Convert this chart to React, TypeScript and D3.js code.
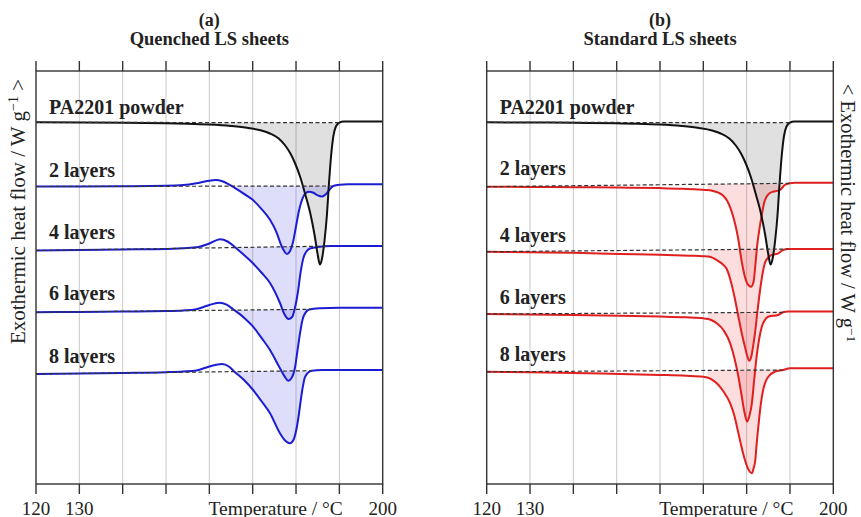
import React from "react";
import * as d3 from "d3";

const WIDTH = 861;
const HEIGHT = 517;

// Temperature axis
const TEMP_TICKS = [120, 130, 140, 150, 160, 170, 180, 190, 200];
const TEMP_LABELS = [120, 130, 200];
const AXIS_TITLE = "Temperature / °C";
const AXIS_TITLE_AT = 175.3;

// Heat flow (W g^-1) relative to each trace's high-temperature baseline; [°C, W g^-1]
type Pt = [number, number];

const powder: Pt[] = [
  [120, -0.008], [130, -0.01], [140, -0.013], [150, -0.018], [155, -0.022], [160, -0.03],
  [165, -0.045], [169, -0.065], [172, -0.09], [174, -0.12], [176, -0.17], [177.5, -0.24],
  [178.7, -0.32], [179.8, -0.42], [181, -0.56], [182.2, -0.74], [183.3, -0.92], [184.3, -1.14],
  [185, -1.33], [185.5, -1.43], [186, -1.37], [186.6, -1.18], [187.1, -0.95], [187.6, -0.62],
  [188.1, -0.34], [188.6, -0.15], [189.2, -0.05], [190, -0.012], [191, 0], [200, 0],
];

const quenched2: Pt[] = [
  [120, -0.022], [130, -0.021], [140, -0.019], [150, -0.015], [154, -0.008], [157, 0.01],
  [159.5, 0.032], [161.5, 0.043], [163, 0.03], [164.3, 0.005], [166, -0.04], [168, -0.095],
  [170, -0.155], [172, -0.245], [174, -0.355], [175.5, -0.48], [176.5, -0.6], [177.3, -0.67],
  [177.9, -0.697], [178.6, -0.67], [179.3, -0.58], [180, -0.42], [180.7, -0.26], [181.5, -0.14],
  [182.3, -0.085], [183, -0.075], [184, -0.085], [185, -0.11], [186, -0.122], [187, -0.095],
  [187.8, -0.05], [188.6, -0.017], [190, -0.004], [192, 0], [200, 0],
];

const quenched4: Pt[] = [
  [120, -0.045], [130, -0.04], [140, -0.035], [150, -0.03], [154, -0.022], [157.5, -0.01],
  [160, 0.025], [162.5, 0.067], [164.2, 0.045], [166, -0.015], [168, -0.09], [170, -0.17],
  [172, -0.265], [174, -0.37], [176.3, -0.57], [177.3, -0.68], [178.3, -0.73], [179.1, -0.71],
  [179.7, -0.63], [180.4, -0.47], [181.1, -0.25], [181.7, -0.12], [182.4, -0.055], [183.2, -0.025],
  [185.5, -0.007], [188, 0], [200, 0],
];

const quenched6: Pt[] = [
  [120, -0.046], [130, -0.042], [140, -0.038], [150, -0.034], [154, -0.028], [157, -0.015],
  [159.5, 0.02], [162.3, 0.05], [164, 0.03], [165.5, -0.016], [168, -0.1], [170.1, -0.19],
  [172, -0.3], [174, -0.423], [176.3, -0.606], [177.4, -0.69], [178.2, -0.73], [179, -0.7],
  [179.8, -0.59], [180.3, -0.44], [180.8, -0.29], [181.3, -0.16], [181.8, -0.08], [183.1, -0.018],
  [185.5, -0.006], [190, 0], [200, 0],
];

const quenched8: Pt[] = [
  [120, -0.04], [130, -0.036], [140, -0.03], [150, -0.022], [154, -0.015], [157, -0.005],
  [160, 0.035], [162.9, 0.06], [164.5, 0.035], [165.8, -0.017], [168, -0.1], [170.1, -0.2],
  [172, -0.31], [174, -0.433], [176.3, -0.633], [177.6, -0.71], [178.6, -0.733], [179.4, -0.7],
  [180.2, -0.567], [180.7, -0.43], [181.1, -0.3], [181.6, -0.16], [182.1, -0.067], [183.6, -0.007],
  [186, 0], [200, 0],
];

const standard2: Pt[] = [
  [120, -0.04], [130, -0.042], [140, -0.045], [150, -0.048], [160, -0.054], [165, -0.06],
  [168, -0.066], [170.5, -0.072], [172, -0.08], [173.5, -0.1], [174.6, -0.13], [175.5, -0.18],
  [176.3, -0.26], [176.9, -0.34], [177.6, -0.46], [178.1, -0.573], [178.8, -0.773], [179.6, -0.94],
  [180.4, -1.025], [181, -1.04], [181.6, -0.99], [182, -0.83], [182.4, -0.64], [183, -0.45],
  [183.5, -0.32], [184.1, -0.19], [184.6, -0.14], [185.3, -0.105], [186.1, -0.09], [187, -0.082],
  [187.7, -0.073], [188.3, -0.045], [188.8, -0.023], [190, -0.006], [191, 0], [200, 0],
];

const standard4: Pt[] = [
  [120, -0.027], [130, -0.032], [140, -0.038], [150.8, -0.05], [160, -0.058], [166.9, -0.067],
  [170, -0.072], [171.5, -0.077], [173.1, -0.11], [174.4, -0.15], [175.4, -0.2], [176.2, -0.3],
  [177.2, -0.48], [178.1, -0.677], [179, -0.87], [179.6, -0.977], [180.2, -1.08], [180.6, -1.117],
  [181.1, -1.07], [181.5, -0.97], [181.9, -0.85], [182.5, -0.62], [183.1, -0.41], [183.7, -0.24],
  [184.2, -0.143], [185, -0.085], [185.8, -0.06], [187.3, -0.043], [188.4, -0.01], [189.6, 0],
  [200, 0],
];

const standard6: Pt[] = [
  [120, -0.025], [130, -0.03], [140, -0.035], [150.8, -0.042], [160, -0.05], [166, -0.058],
  [170, -0.068], [171.7, -0.082], [173.1, -0.118], [174.7, -0.19], [176.2, -0.318], [177.2, -0.47],
  [178.1, -0.652], [178.8, -0.83], [179.4, -0.985], [180.1, -1.102], [180.6, -1.05], [181.2, -0.918],
  [181.7, -0.7], [182.3, -0.452], [182.9, -0.27], [183.5, -0.152], [184.2, -0.085], [185, -0.052],
  [187.3, -0.035], [188.4, -0.008], [189.6, 0], [200, 0],
];

const standard8: Pt[] = [
  [120, -0.035], [130, -0.04], [140, -0.046], [150.8, -0.057], [160, -0.066], [166, -0.074],
  [170, -0.084], [171.7, -0.105], [173.1, -0.15], [174.7, -0.235], [176.2, -0.35], [177.2, -0.48],
  [178.1, -0.65], [179, -0.82], [179.6, -0.917], [180.5, -1.02], [181.2, -1.05], [181.6, -1.0],
  [182, -0.917], [182.3, -0.76], [182.7, -0.584], [183.2, -0.38], [183.8, -0.217], [184.4, -0.13],
  [185, -0.084], [186.5, -0.034], [188.4, -0.017], [190, 0], [200, 0],
];

const POWDER_LABEL = "PA2201 powder";
const LAYER_LABELS = ["2 layers", "4 layers", "6 layers", "8 layers"];

// vertical shift of each trace (W g^-1)
const POWDER_OFFSET = 0;
const QUENCHED_OFFSETS = [-0.628, -1.245, -1.862, -2.485];
const STANDARD_OFFSETS = [-0.612, -1.275, -1.9, -2.468];

// integration limits (°C): baseline drawn from start to end, peak shaded from fill start to end
const POWDER_LIMITS = [120, 190, 160];
const QUENCHED_LIMITS = [
  [120, 188.6, 164.8],
  [120, 187.5, 165.8],
  [120, 183.5, 165.3],
  [120, 183.6, 165.6],
];
const STANDARD_LIMITS = [
  [120, 190, 171],
  [120, 189.6, 171],
  [120, 188.4, 171],
  [120, 188.4, 171],
];

const INK = "#222";
const FONT = "'Liberation Serif', 'Times New Roman', serif";

const yScale = d3.scaleLinear().domain([-3.625, 0.505]).range([484, 71]);
const TOP = 71;
const BOTTOM = 484;

function valueAt(data: Pt[], t: number): number {
  const i = d3.bisector((d: Pt) => d[0]).left(data, t);
  if (i <= 0) return data[0][1];
  if (i >= data.length) return data[data.length - 1][1];
  const [t0, v0] = data[i - 1];
  const [t1, v1] = data[i];
  return v0 + ((v1 - v0) * (t - t0)) / (t1 - t0);
}

interface Trace {
  label: string;
  data: Pt[];
  offset: number;
  limits: number[];
}

interface PanelProps {
  x0: number;
  x1: number;
  letter: string;
  title: string;
  traces: Trace[];
  color: string;
  fill: string;
}

function Panel({ x0, x1, letter, title, traces, color, fill }: PanelProps) {
  const x = d3.scaleLinear().domain([120, 200]).range([x0, x1]);

  const lineFor = (off: number) =>
    d3
      .line<Pt>()
      .x((d) => x(d[0]))
      .y((d) => yScale(d[1] + off))
      .curve(d3.curveMonotoneX);

  const parts = traces.map((tr, idx) => {
    const [tA, tB, tF] = tr.limits;
    const vA = valueAt(tr.data, tA);
    const vB = valueAt(tr.data, tB);
    const base = (t: number) => vA + ((vB - vA) * (t - tA)) / (tB - tA);
    const inner = tr.data.filter((d) => d[0] > tF && d[0] < tB);
    const fillPts: Pt[] = [[tF, valueAt(tr.data, tF)], ...inner, [tB, vB]];
    const area = d3
      .area<Pt>()
      .x((d) => x(d[0]))
      .y0((d) => yScale(base(d[0]) + tr.offset))
      .y1((d) => yScale(d[1] + tr.offset))
      .curve(d3.curveMonotoneX);
    return {
      key: idx,
      areaPath: area(fillPts) || "",
      linePath: lineFor(tr.offset)(tr.data) || "",
      dash: { x1: x(tA), y1: yScale(vA + tr.offset), x2: x(tB), y2: yScale(vB + tr.offset) },
      isPowder: idx === 0,
      label: tr.label,
      labelY: yScale(tr.offset) - 7.5,
    };
  });

  const cx = (x0 + x1) / 2;
  const drawOrder = [...parts.slice(1)].reverse();

  return (
    <g>
      <text x={cx} y={25.5} textAnchor="middle" fontFamily={FONT} fontWeight="bold" fontSize={18} fill={INK}>
        {letter}
      </text>
      <text x={cx} y={45} textAnchor="middle" fontFamily={FONT} fontWeight="bold" fontSize={18.5} fill={INK}>
        {title}
      </text>

      {TEMP_TICKS.slice(1, -1).map((t) => (
        <line key={`g${t}`} x1={x(t)} x2={x(t)} y1={TOP} y2={BOTTOM} stroke="#c9c9c9" strokeWidth={1} />
      ))}

      {parts.map((p) => (
        <path key={`a${p.key}`} d={p.areaPath} fill={p.isPowder ? "rgba(0,0,0,0.12)" : fill} stroke="none" />
      ))}

      {drawOrder.map((p) => (
        <path key={`l${p.key}`} d={p.linePath} fill="none" stroke={color} strokeWidth={2} />
      ))}
      <path d={parts[0].linePath} fill="none" stroke="#111" strokeWidth={2} />

      {parts.map((p) => (
        <line
          key={`d${p.key}`}
          {...p.dash}
          stroke="#333"
          strokeWidth={1.2}
          strokeDasharray="4 2.5"
        />
      ))}

      {parts.map((p) => (
        <text
          key={`t${p.key}`}
          x={x0 + 13}
          y={p.labelY}
          fontFamily={FONT}
          fontWeight="bold"
          fontSize={20}
          fill={INK}
        >
          {p.label}
        </text>
      ))}

      <rect x={x0} y={TOP} width={x1 - x0} height={BOTTOM - TOP} fill="none" stroke="#333" strokeWidth={1.4} />
      {TEMP_TICKS.map((t) => (
        <g key={`k${t}`}>
          <line x1={x(t)} x2={x(t)} y1={TOP} y2={TOP - 10} stroke="#333" strokeWidth={1.4} />
          <line x1={x(t)} x2={x(t)} y1={BOTTOM} y2={BOTTOM + 10} stroke="#333" strokeWidth={1.4} />
        </g>
      ))}
      {TEMP_LABELS.map((t) => (
        <text key={`n${t}`} x={x(t)} y={514.5} textAnchor="middle" fontFamily={FONT} fontSize={19} fill={INK}>
          {t}
        </text>
      ))}
      <text x={x(AXIS_TITLE_AT)} y={514.5} textAnchor="middle" fontFamily={FONT} fontSize={19.5} fill={INK}>
        {AXIS_TITLE}
      </text>
    </g>
  );
}

export default function App() {
  const quenched: Trace[] = [
    { label: POWDER_LABEL, data: powder, offset: POWDER_OFFSET, limits: POWDER_LIMITS },
    ...[quenched2, quenched4, quenched6, quenched8].map((data, i) => ({
      label: LAYER_LABELS[i],
      data,
      offset: QUENCHED_OFFSETS[i],
      limits: QUENCHED_LIMITS[i],
    })),
  ];
  const standard: Trace[] = [
    { label: POWDER_LABEL, data: powder, offset: POWDER_OFFSET, limits: POWDER_LIMITS },
    ...[standard2, standard4, standard6, standard8].map((data, i) => ({
      label: LAYER_LABELS[i],
      data,
      offset: STANDARD_OFFSETS[i],
      limits: STANDARD_LIMITS[i],
    })),
  ];

  return (
    <svg
      width={WIDTH}
      height={HEIGHT}
      viewBox={`0 0 ${WIDTH} ${HEIGHT}`}
      style={{ position: "absolute", left: 0, top: 0, background: "#fff" }}
    >
      <rect width={WIDTH} height={HEIGHT} fill="#fff" />
      <Panel
        x0={36}
        x1={382.7}
        letter="(a)"
        title="Quenched LS sheets"
        traces={quenched}
        color="#1c1cd2"
        fill="rgba(70,70,235,0.18)"
      />
      <Panel
        x0={486.7}
        x1={833.3}
        letter="(b)"
        title="Standard LS sheets"
        traces={standard}
        color="#e01f1f"
        fill="rgba(235,50,50,0.16)"
      />
      <text
        transform="translate(25,211.5) rotate(-90)"
        textAnchor="middle"
        fontFamily={FONT}
        fontSize={21}
        fill={INK}
      >
        Exothermic heat flow / W g
        <tspan dy={-7} fontSize={14}>−1</tspan>
        <tspan dy={7}> &gt;</tspan>
      </text>
      <text
        transform="translate(841,213) rotate(90)"
        textAnchor="middle"
        fontFamily={FONT}
        fontSize={20.5}
        fill={INK}
      >
        &lt; Exothermic heat flow / W g
        <tspan dy={-6} fontSize={13.5}>−1</tspan>
      </text>
    </svg>
  );
}
